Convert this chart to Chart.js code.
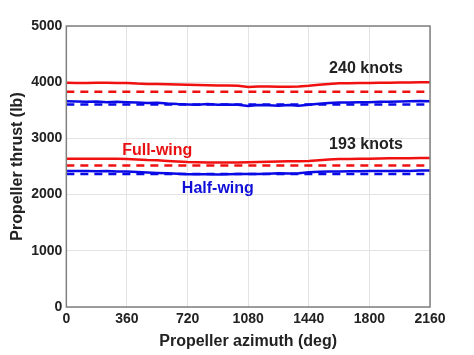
<!DOCTYPE html>
<html><head><meta charset="utf-8">
<script src="https://cdn.jsdelivr.net/npm/chart.js@4/dist/chart.umd.min.js"></script>
<style>html,body{margin:0;padding:0;background:#fff}#wrap{width:474px;height:355px}</style>
</head><body><div id="wrap"><canvas id="c" width="474" height="355"></canvas></div>
<script>
const azimuth = [0,60,120,180,240,300,360,420,480,540,600,660,720,780,840,900,960,1020,1080,1140,1200,1260,1320,1380,1440,1500,1560,1620,1680,1740,1800,1860,1920,1980,2040,2100,2160];
const fullWing240 = [3990,3985,3985,3988,3988,3985,3985,3975,3970,3968,3965,3960,3955,3950,3945,3940,3940,3935,3915,3925,3925,3920,3920,3925,3935,3955,3970,3980,3980,3985,3985,3990,3992,3995,3995,3998,4000];
const halfWing240 = [3660,3655,3650,3655,3645,3650,3645,3640,3630,3635,3620,3610,3605,3600,3610,3600,3605,3600,3575,3595,3590,3580,3595,3580,3600,3615,3630,3640,3640,3645,3645,3650,3650,3655,3660,3665,3660];
const fullWing193 = [2640,2640,2638,2640,2640,2638,2635,2625,2615,2610,2600,2590,2578,2575,2572,2570,2570,2572,2575,2580,2585,2590,2592,2595,2600,2612,2625,2632,2635,2638,2640,2642,2645,2648,2648,2650,2650];
const halfWing193 = [2420,2418,2420,2415,2418,2412,2410,2400,2392,2385,2378,2370,2362,2360,2362,2358,2362,2365,2368,2365,2372,2378,2375,2382,2398,2405,2410,2412,2415,2415,2420,2418,2422,2425,2422,2428,2430];
const fullWingMean240 = 3830, halfWingMean240 = 3605, fullWingMean193 = 2520, halfWingMean193 = 2365;
const xTicks = [0,360,720,1080,1440,1800,2160];
const yTicks = [0,1000,2000,3000,4000,5000];
const labels = [
  {text:'240 knots', x:1780, y:4250, color:'#222'},
  {text:'193 knots', x:1780, y:2890, color:'#222'},
  {text:'Full-wing', x:540, y:2780, color:'#e81010'},
  {text:'Half-wing', x:900, y:2110, color:'#1010d8'}
];
const RED = '#f01010', BLUE = '#0a0ae6';
const pts = a => azimuth.map((x,i)=>({x, y:a[i]}));
const flat = v => [{x:0,y:v},{x:2160,y:v}];
const mk = (data,color,dash) => ({data, borderColor:color, borderWidth: 2.5, borderDash: dash?[8,6]:[], pointRadius:0, tension:0, fill:false});
const FONT = '"Liberation Sans", Arial, sans-serif';
const textPlugin = {
  id:'txt',
  afterDatasetsDraw(chart){
    const {ctx, scales:{x,y}} = chart;
    ctx.save();
    ctx.font = 'bold 16px ' + FONT;
    ctx.textAlign = 'center'; ctx.textBaseline = 'middle';
    labels.forEach(l=>{ ctx.fillStyle = l.color; ctx.fillText(l.text, x.getPixelForValue(l.x), y.getPixelForValue(l.y)); });
    ctx.restore();
  }
};
const borderPlugin = {
  id:'brd',
  afterDraw(chart){
    const {ctx, chartArea:a} = chart;
    ctx.save(); ctx.strokeStyle = '#808080'; ctx.lineWidth = 1.5;
    ctx.strokeRect(a.left, a.top, a.right-a.left, a.bottom-a.top);
    ctx.restore();
  }
};
new Chart(document.getElementById('c'), {
  type:'line',
  data:{datasets:[
    mk(pts(fullWing240),RED,false), mk(flat(fullWingMean240),RED,true),
    mk(pts(halfWing240),BLUE,false), mk(flat(halfWingMean240),BLUE,true),
    mk(pts(fullWing193),RED,false), mk(flat(fullWingMean193),RED,true),
    mk(pts(halfWing193),BLUE,false), mk(flat(halfWingMean193),BLUE,true)
  ]},
  options:{
    responsive:false, animation:false,
    layout:{padding:{top:26, right:44, left:8, bottom:4}},
    plugins:{legend:{display:false}, tooltip:{enabled:false}},
    scales:{
      x:{type:'linear', min:0, max:2160,
        afterBuildTicks: s => { s.ticks = xTicks.map(v=>({value:v})); },
        grid:{color:'#e3e3e3', drawTicks:false},
        border:{display:false},
        ticks:{color:'#222', padding:4, maxRotation:0, callback:v=>String(v), font:{family:FONT, weight:'bold', size:14}},
        title:{display:true, text:'Propeller azimuth (deg)', color:'#222', padding:{top:0,bottom:0}, font:{family:FONT, weight:'bold', size:16}}
      },
      y:{type:'linear', min:0, max:5000,
        afterBuildTicks: s => { s.ticks = yTicks.map(v=>({value:v})); },
        grid:{color:'#e3e3e3', drawTicks:false},
        border:{display:false},
        ticks:{color:'#222', padding:4, callback:v=>String(v), font:{family:FONT, weight:'bold', size:14}},
        title:{display:true, text:'Propeller thrust (lb)', color:'#222', padding:{top:0,bottom:0}, font:{family:FONT, weight:'bold', size:16}}
      }
    }
  },
  plugins:[textPlugin, borderPlugin]
});
</script></body></html>
